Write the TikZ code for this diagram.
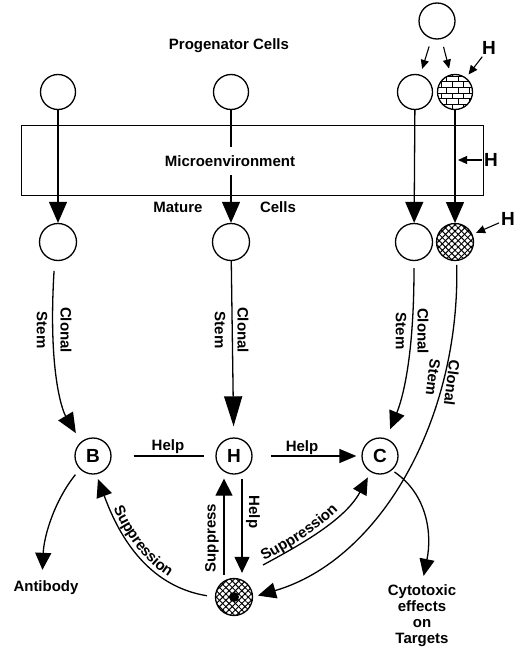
\documentclass[tikz,border=0pt]{standalone}
\usepackage{fontspec}
\setmainfont{Liberation Sans}
\usetikzlibrary{arrows.meta,patterns,patterns.meta,decorations.text,calc}
\begin{document}
\begin{tikzpicture}[x=1pt,y=-1pt,
  lbl/.style={font=\bfseries\fontsize{15}{16}\selectfont, inner sep=1pt},
  bigl/.style={font=\bfseries\fontsize{19}{19}\selectfont, inner sep=2pt},
  cell/.style={circle, draw, line width=1.3pt, minimum size=35pt, inner sep=0pt},
  xcell/.style={cell, preaction={pattern={Lines[angle=45,distance=4.5pt,line width=1pt]}}, pattern={Lines[angle=-45,distance=4.5pt,line width=1pt]}},
  arr/.style={line width=1.3pt, -{Triangle[length=18pt,width=16pt]}},
  barr/.style={line width=1.3pt, -{Triangle[length=21pt,width=18pt]}},
  sarr/.style={line width=1.1pt, -{Triangle[length=9pt,width=8pt]}},
  plainline/.style={line width=1.3pt},
  suptext/.style={decorate, decoration={text along path, raise=3pt,
     text={|\bfseries\fontsize{15}{15}\selectfont|Suppression}}}
]
\useasboundingbox (0,0) rectangle (518,648);

% progenitor row
\node[cell, minimum size=36pt] (t0) at (437,21) {};
\node[cell] (p1) at (58,92) {};
\node[cell] (p2) at (231,92) {};
\node[cell] (p3) at (415,92) {};
\node[cell, pattern=bricks] (p4) at (455,92) {};
\node[lbl] (prog) at (229,46) {Progenator Cells};

% microenvironment box
\node[draw, line width=1pt, minimum width=462pt, minimum height=70pt, inner sep=0pt] (box) at (252,160) {};

% mature row
\node[cell, minimum size=37pt] (m1) at (58,242) {};
\node[cell, minimum size=37pt] (m2) at (231,242) {};
\node[cell, minimum size=37pt] (m3) at (414,242) {};
\node[xcell, minimum size=37pt] (m4) at (455,242) {};

\draw[barr] (p1) -- (m1);
\draw[barr] (p2) -- (m2);
\draw[barr] (p3) -- (m3);
\draw[barr] (p4) -- (m4);
\node[lbl, fill=white, inner ysep=8pt] (micro) at (230,161) {Microenvironment};
\node[lbl] (mat) at (178,207) {Mature};
\node[lbl] (cel) at (278,207) {Cells};

% top small arrows and H inputs
\draw[sarr, shorten <=8pt, shorten >=6pt] (t0) -- (p3);
\draw[sarr, shorten <=8pt, shorten >=6pt] (t0) -- (p4);
\node[bigl] (h1) at (489,48) {H};
\draw[sarr, shorten >=4pt] (h1) -- (p4);
\node[bigl] (h2) at (491,160) {H};
\draw[sarr, shorten >=3pt] (h2) -- (h2 -| p4);
\node[bigl] (h3) at (508,219) {H};
\draw[sarr, shorten >=4pt] (h3) -- (m4);

% effector row
\node[cell, minimum size=36pt, bigl] (B) at (93,456) {B};
\node[cell, minimum size=36pt, bigl] (H) at (234,456) {H};
\node[cell, minimum size=36pt, bigl] (C) at (380,456) {C};
\node[xcell, minimum size=37pt] (S) at (234,597) {};
\fill (S) circle (5pt);

% clonal stem arrows
\draw[line width=1.3pt, -{Triangle[length=20pt,width=17pt]}, shorten <=10pt, shorten >=10pt]
  (m1.-100) .. controls (48,370) and (62,410) .. (B.130);
\node[lbl, rotate=-90] (cl1) at (66,330) {Clonal};
\node[lbl, rotate=-90] (st1) at (42,330) {Stem};

\draw[line width=1.3pt, -{Triangle[length=30pt,width=18pt]}, shorten >=11pt] (m2) -- (H);
\node[lbl, rotate=-90] (cl2) at (243,330) {Clonal};
\node[lbl, rotate=-90] (st2) at (220,330) {Stem};

\draw[arr, shorten <=7pt, shorten >=10pt]
  (m3.-90) .. controls (414,360) and (402,400) .. (C.70);
\node[lbl, rotate=-90] (cl3) at (423,331) {Clonal};
\node[lbl, rotate=-90] (st3) at (401,331) {Stem};

\draw[arr, shorten <=4pt, shorten >=5pt]
  (m4.-85) .. controls (460,420) and (380,560) .. (S.east);
\node[lbl, rotate=-97] (cl4) at (452,383) {Clonal};
\node[lbl, rotate=-97] (st4) at (433,377) {Stem};

% help / suppress
\draw[plainline, shorten <=22pt, shorten >=11pt] (B) -- (H);
\node[lbl] (help1) at (168,447) {Help};
\draw[line width=1.3pt, -{Triangle[length=17pt,width=14pt]}, shorten <=18pt, shorten >=5pt] (H) -- (C);
\node[lbl] (help2) at (302,448) {Help};
\draw[line width=1.3pt, -{Triangle[length=16pt,width=15pt]}, shorten <=4pt, shorten >=5pt] ([xshift=8pt]H.south) -- ([xshift=8pt]S.north);
\node[lbl, rotate=-90] (help3) at (253,512) {Help};
\draw[line width=1.3pt, -{Triangle[length=17pt,width=17pt]}, shorten <=3pt, shorten >=4pt] ([xshift=-10pt]S.north) -- ([xshift=-10pt]H.south);
\node[lbl, rotate=90] (sup) at (212,538) {Suppress};

% suppression curves
\draw[arr, shorten <=8pt, shorten >=5pt] (S.west) .. controls (140,585) and (114,522) .. (B.-80);
\path[suptext, decoration={text align={left indent=38pt}}] (B.-80) .. controls (114,522) and (140,585) .. (S.west);

\draw[line width=1.3pt, -{Triangle[length=17pt,width=15pt]}, shorten >=6pt] ($(S)+(29,-32)$) .. controls (300,545) and (345,520) .. (C.-120);
\path[suptext, decoration={text align={left indent=3pt}}] ($(S)+(29,-32)$) .. controls (300,545) and (345,520) .. (C.-120);

% outputs
\node[lbl] (anti) at (46,588) {Antibody};
\draw[line width=1.3pt, -{Triangle[length=17pt,width=16pt]}, shorten <=7pt, shorten >=10pt] (B.225) .. controls (55,500) and (44,535) .. ([xshift=-4pt]anti.north);
\node[lbl, align=center] (cyto) at (422,616) {Cytotoxic\\effects\\on\\Targets};
\draw[line width=1.3pt, -{Triangle[length=17pt,width=15pt]}, shorten <=3pt, shorten >=8pt] (C.-50) .. controls (428,495) and (432,535) .. (cyto.north);
\end{tikzpicture}
\end{document}
